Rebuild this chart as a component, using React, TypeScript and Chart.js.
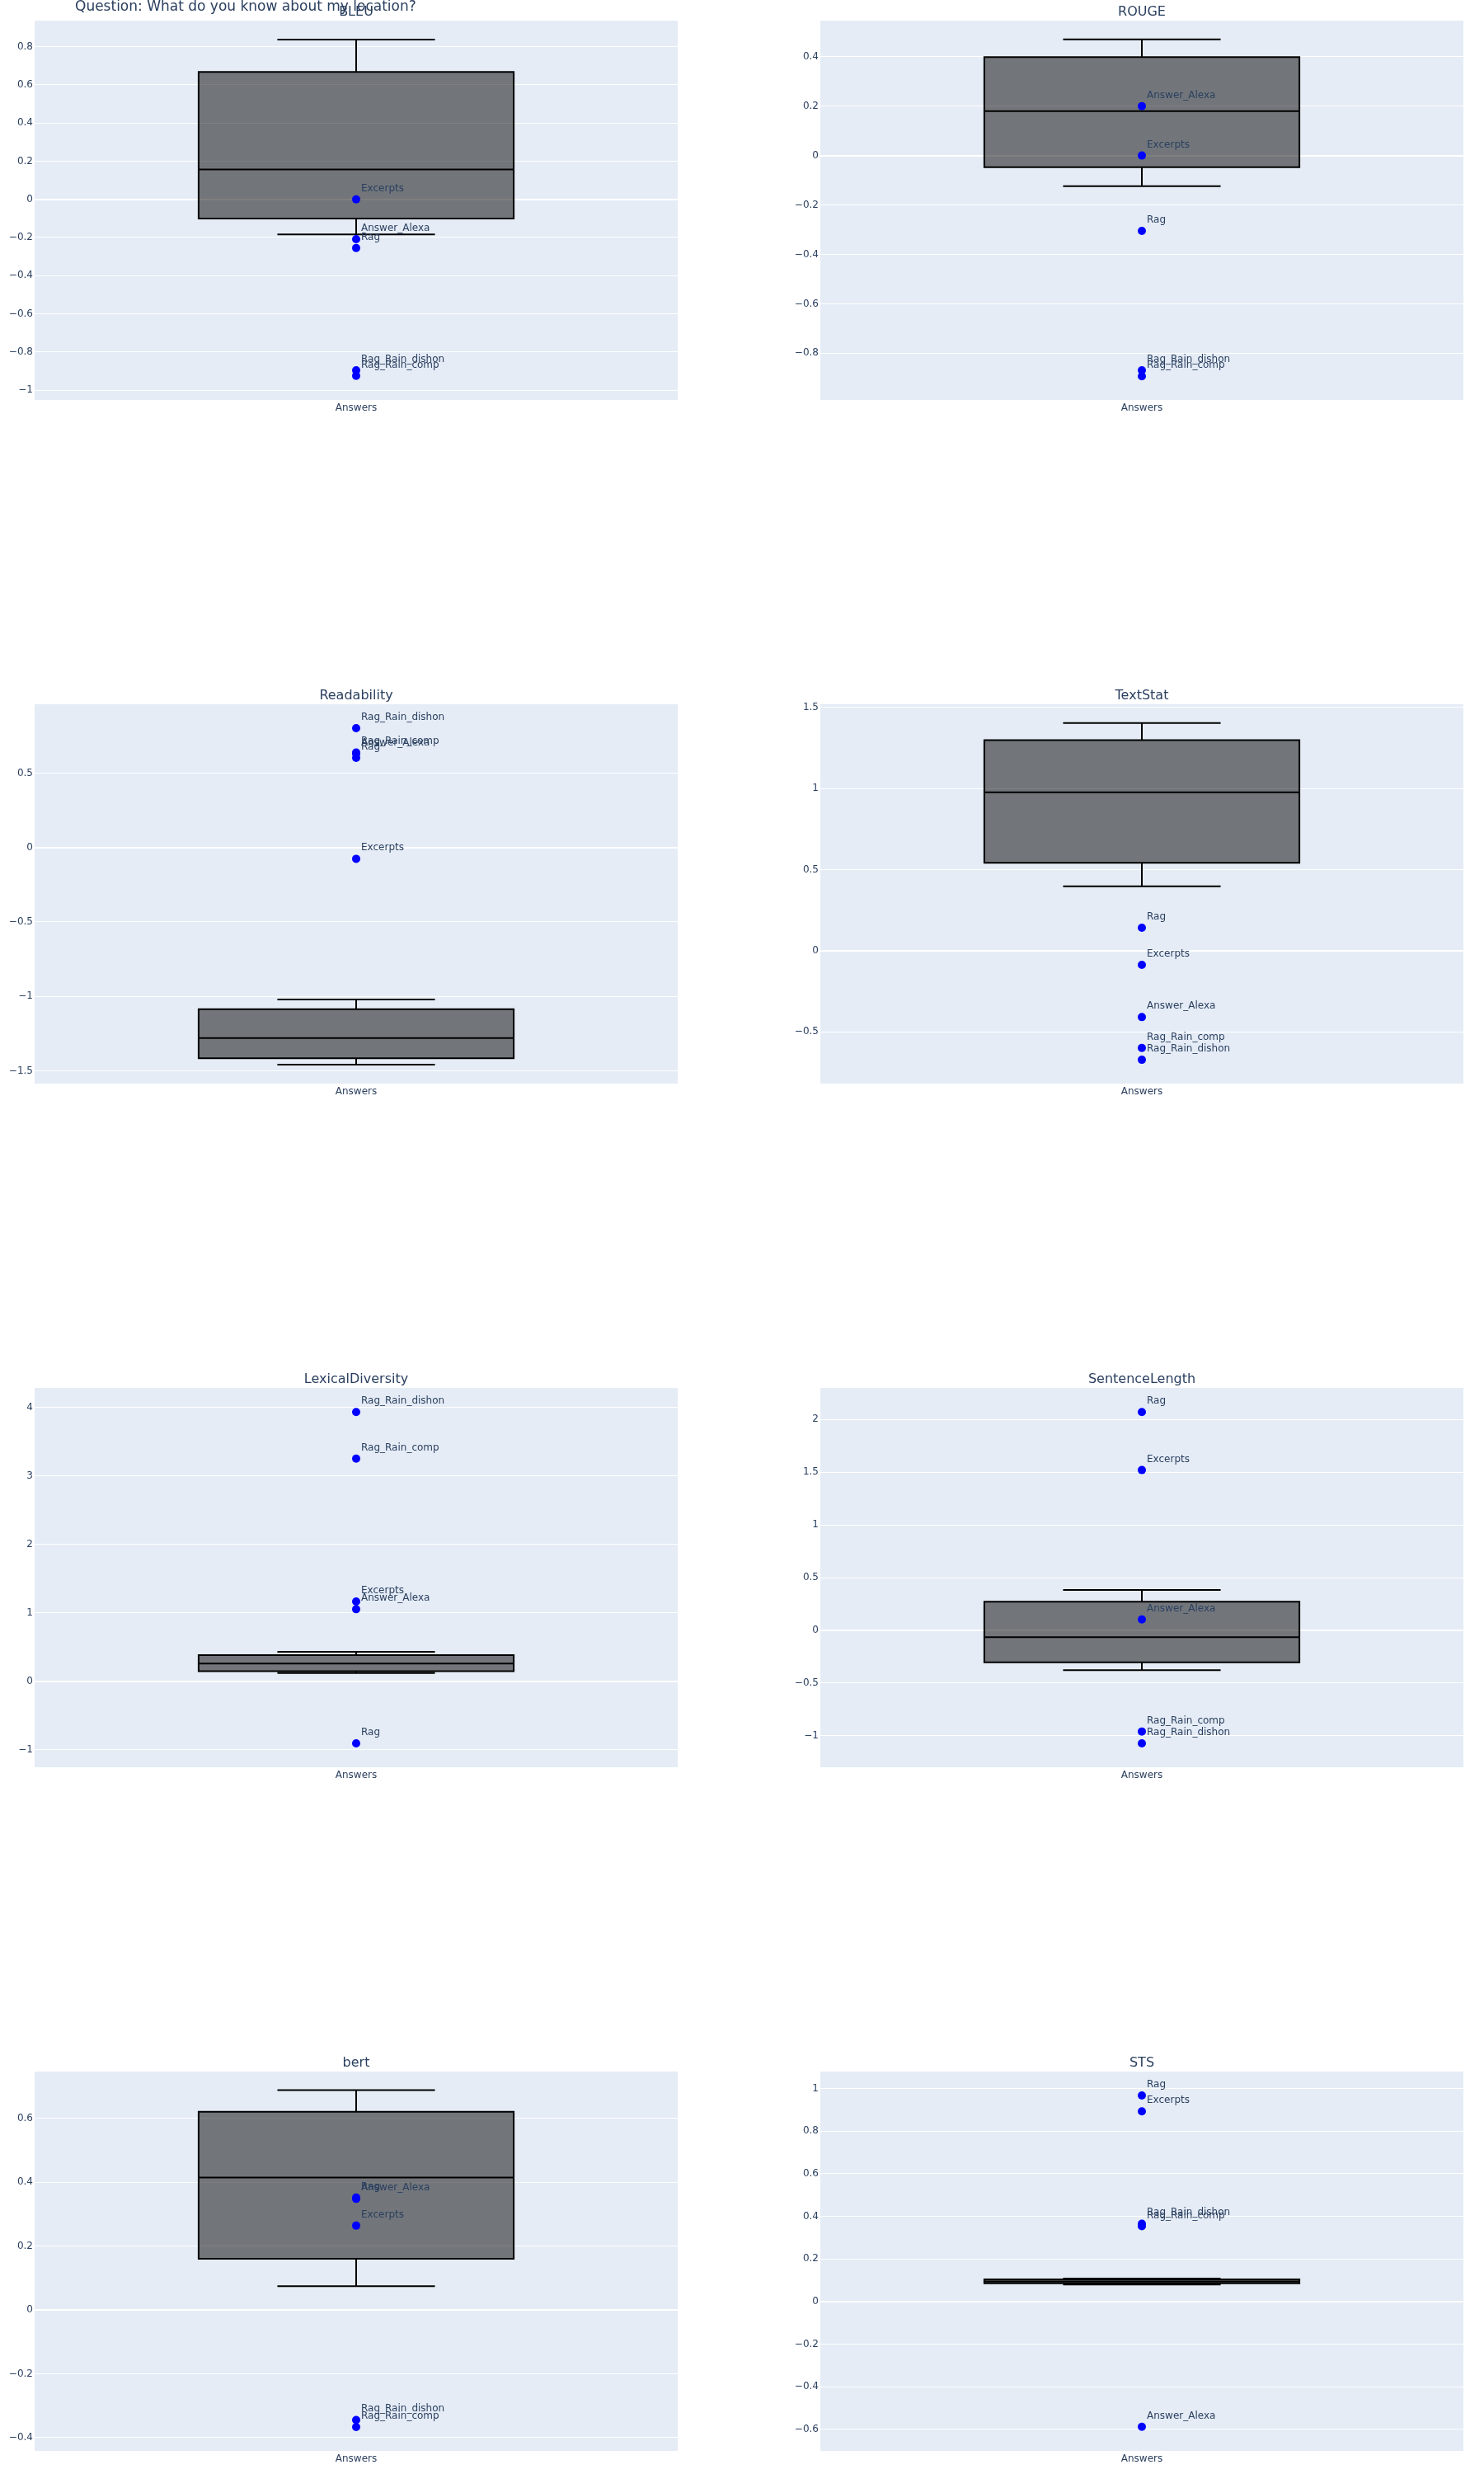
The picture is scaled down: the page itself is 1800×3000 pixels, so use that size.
import React, { useEffect, useRef } from "react";
import { Chart, registerables } from "chart.js";

Chart.register(...registerables);

const MAIN_TITLE = "Question: What do you know about my location?";
const X_CATEGORY = "Answers";
const METRICS = ["BLEU", "ROUGE", "Readability", "TextStat", "LexicalDiversity", "SentenceLength", "bert", "STS"];

// box statistics per metric (same order as METRICS)
const WHISKER_LOW = [-0.184, -0.124, -1.459, 0.397, 0.12, -0.378, 0.074, 0.08];
const Q1 = [-0.101, -0.047, -1.415, 0.541, 0.148, -0.302, 0.16, 0.086];
const MEDIAN = [0.156, 0.18, -1.28, 0.976, 0.257, -0.065, 0.415, 0.095];
const Q3 = [0.667, 0.398, -1.086, 1.298, 0.381, 0.271, 0.621, 0.104];
const WHISKER_HIGH = [0.837, 0.47, -1.021, 1.403, 0.429, 0.383, 0.689, 0.108];

// answer points per metric
const MODELS = ["Answer_Alexa", "Excerpts", "Rag", "Rag_Rain_comp", "Rag_Rain_dishon"];
const ANSWER_ALEXA = [-0.209, 0.2, 0.63, -0.41, 1.051, 0.104, 0.348, -0.588];
const EXCERPTS = [0.0, 0.0, -0.076, -0.088, 1.164, 1.52, 0.264, 0.893];
const RAG = [-0.255, -0.305, 0.602, 0.141, -0.907, 2.07, 0.352, 0.968];
const RAG_RAIN_COMP = [-0.925, -0.893, 0.638, -0.6, 3.25, -0.959, -0.367, 0.354];
const RAG_RAIN_DISHON = [-0.896, -0.869, 0.801, -0.673, 3.929, -1.071, -0.345, 0.366];
const MODEL_VALUES = [ANSWER_ALEXA, EXCERPTS, RAG, RAG_RAIN_COMP, RAG_RAIN_DISHON];

// y axis ranges and tick labels
const Y_MIN = [-1.051, -0.989, -1.586, -0.82, -1.256, -1.298, -0.442, -0.701];
const Y_MAX = [0.936, 0.546, 0.962, 1.519, 4.282, 2.299, 0.747, 1.08];
const Y_TICKS = [
  [-1, -0.8, -0.6, -0.4, -0.2, 0, 0.2, 0.4, 0.6, 0.8],
  [-0.8, -0.6, -0.4, -0.2, 0, 0.2, 0.4],
  [-1.5, -1, -0.5, 0, 0.5],
  [-0.5, 0, 0.5, 1, 1.5],
  [-1, 0, 1, 2, 3, 4],
  [-1, -0.5, 0, 0.5, 1, 1.5, 2],
  [-0.4, -0.2, 0, 0.2, 0.4, 0.6],
  [-0.6, -0.4, -0.2, 0, 0.2, 0.4, 0.6, 0.8, 1],
];

const FONT = "DejaVu Sans";
const TEXT_COLOR = "#2a3f5f";
const COL_LEFT = [42, 995];
const ROW_TOP = [25, 854, 1683, 2512];
const PLOT_W = 780;
const PLOT_H = 460;
const PAD_L = 42;
const PAD_T = 25;
const PAD_R = 10;
const PAD_B = 20;
const BOX_HALF = 0.245;

function fmt(v: number): string {
  const s = String(Math.round(v * 1000) / 1000);
  return s.replace("-", "\u2212");
}

function Panel({ index }: { index: number }) {
  const ref = useRef<HTMLCanvasElement | null>(null);
  const col = index % 2;
  const row = Math.floor(index / 2);
  const left = COL_LEFT[col] - PAD_L;
  const top = ROW_TOP[row] - PAD_T;
  const w = PLOT_W + PAD_L + PAD_R;
  const h = PLOT_H + PAD_T + PAD_B;

  useEffect(() => {
    if (!ref.current) return;
    const i = index;
    const boxPlugin = {
      id: "boxPlugin" + i,
      beforeDatasetsDraw(chart: any) {
        const { ctx, scales } = chart;
        const xs = scales.x;
        const ys = scales.y;
        const xl = xs.getPixelForValue(-BOX_HALF);
        const xr = xs.getPixelForValue(BOX_HALF);
        const xc = xs.getPixelForValue(0);
        const cl = xs.getPixelForValue(-BOX_HALF / 2);
        const cr = xs.getPixelForValue(BOX_HALF / 2);
        const yq1 = ys.getPixelForValue(Q1[i]);
        const yq3 = ys.getPixelForValue(Q3[i]);
        const ymed = ys.getPixelForValue(MEDIAN[i]);
        const ylo = ys.getPixelForValue(WHISKER_LOW[i]);
        const yhi = ys.getPixelForValue(WHISKER_HIGH[i]);
        ctx.save();
        ctx.fillStyle = "rgba(0,0,0,0.5)";
        ctx.fillRect(xl, yq3, xr - xl, yq1 - yq3);
        ctx.strokeStyle = "#000";
        ctx.lineWidth = 2;
        ctx.beginPath();
        ctx.rect(xl, yq3, xr - xl, yq1 - yq3);
        ctx.moveTo(xl, ymed);
        ctx.lineTo(xr, ymed);
        ctx.moveTo(xc, yq3);
        ctx.lineTo(xc, yhi);
        ctx.moveTo(cl, yhi);
        ctx.lineTo(cr, yhi);
        ctx.moveTo(xc, yq1);
        ctx.lineTo(xc, ylo);
        ctx.moveTo(cl, ylo);
        ctx.lineTo(cr, ylo);
        ctx.stroke();
        ctx.restore();
      },
      afterDatasetsDraw(chart: any) {
        const { ctx, scales } = chart;
        ctx.save();
        ctx.font = `12px "${FONT}"`;
        ctx.fillStyle = TEXT_COLOR;
        ctx.textAlign = "left";
        ctx.textBaseline = "alphabetic";
        MODELS.forEach((m, k) => {
          const x = scales.x.getPixelForValue(0);
          const y = scales.y.getPixelForValue(MODEL_VALUES[k][i]);
          ctx.fillText(m, x + 6, y - 10);
        });
        ctx.restore();
      },
      afterDraw(chart: any) {
        const { ctx, chartArea } = chart;
        ctx.save();
        ctx.fillStyle = TEXT_COLOR;
        ctx.textAlign = "center";
        ctx.textBaseline = "alphabetic";
        const cx = (chartArea.left + chartArea.right) / 2;
        ctx.font = `16px "${FONT}"`;
        ctx.fillText(METRICS[i], cx, chartArea.top - 6);
        ctx.font = `12px "${FONT}"`;
        ctx.fillText(X_CATEGORY, cx, chartArea.bottom + 13);
        if (i === 0) {
          ctx.font = `17px "${FONT}"`;
          ctx.textAlign = "left";
          ctx.fillText(MAIN_TITLE, 91 - left, 13 - top);
        }
        ctx.restore();
      },
    };
    const bgPlugin = {
      id: "bg" + i,
      beforeDraw(chart: any) {
        const { ctx, chartArea } = chart;
        ctx.save();
        ctx.fillStyle = "#E5ECF6";
        ctx.fillRect(chartArea.left, chartArea.top, chartArea.right - chartArea.left, chartArea.bottom - chartArea.top);
        ctx.restore();
      },
    };
    const chart = new Chart(ref.current, {
      type: "scatter",
      data: {
        datasets: [
          {
            data: MODELS.map((_, k) => ({ x: 0, y: MODEL_VALUES[k][i] })),
            backgroundColor: "#0000ff",
            borderWidth: 0,
            pointRadius: 5,
          },
        ],
      },
      options: {
        responsive: false,
        animation: false,
        devicePixelRatio: 1,
        layout: { padding: { left: 0, top: PAD_T, right: PAD_R, bottom: PAD_B } },
        plugins: { legend: { display: false }, tooltip: { enabled: false }, title: { display: false } },
        scales: {
          x: { type: "linear", min: -0.5, max: 0.5, display: false },
          y: {
            type: "linear",
            min: Y_MIN[i],
            max: Y_MAX[i],
            afterFit(scale: any) {
              scale.width = PAD_L;
            },
            afterBuildTicks(scale: any) {
              scale.ticks = Y_TICKS[i].map((v) => ({ value: v }));
            },
            border: { display: false },
            grid: {
              color: "#ffffff",
              drawTicks: false,
              lineWidth: (c: any) => (c.tick && c.tick.value === 0 ? 2 : 1),
            },
            ticks: {
              padding: 2,
              color: TEXT_COLOR,
              font: { family: FONT, size: 12 },
              callback: (v: any) => fmt(Number(v)),
            },
          },
        },
      },
      plugins: [bgPlugin, boxPlugin],
    } as any);
    return () => chart.destroy();
  }, [index]);

  return (
    <canvas
      ref={ref}
      width={w}
      height={h}
      style={{ position: "absolute", left, top, width: w, height: h }}
    />
  );
}

export default function App() {
  return (
    <div style={{ position: "absolute", left: 0, top: 0, width: 1800, height: 3000, background: "#fff" }}>
      {METRICS.map((_, i) => (
        <Panel key={i} index={i} />
      ))}
    </div>
  );
}
